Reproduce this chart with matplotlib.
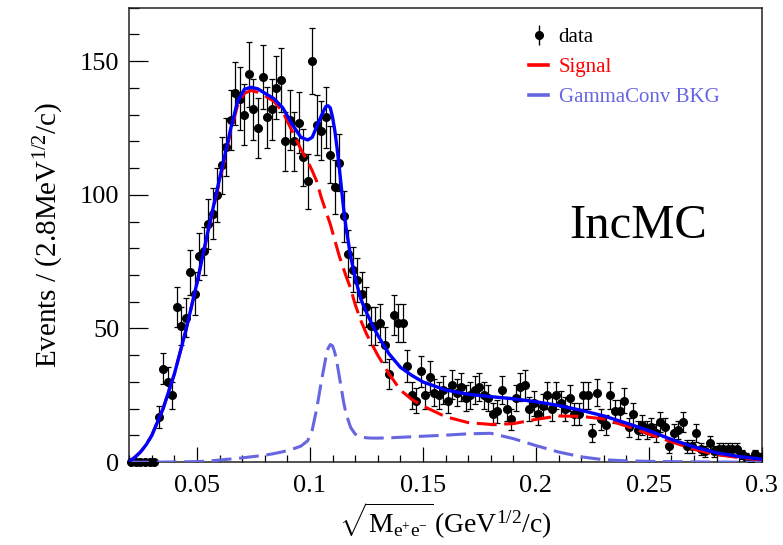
import matplotlib
matplotlib.use("Agg")
import matplotlib.pyplot as plt
import numpy as np
from matplotlib.ticker import MultipleLocator
from matplotlib.lines import Line2D

# Histogram: 140 bins of width 0.002 between 0.02 and 0.3
bin_lo, bin_hi, n_bins = 0.02, 0.30, 140

counts = [
    0, 0, 0, 0, 0, 0, 17, 35, 30, 25,
    58, 51, 54, 71, 63, 77, 79, 89, 93, 100,
    111, 118, 128, 138, 136, 130, 145, 132, 125, 144,
    129, 132, 140, 143, 120, 128, 120, 127, 114, 105,
    150, 126, 124, 129, 115, 103, 112, 92, 78, 72,
    68, 63, 58, 51, 51, 52, 44, 33, 55, 52,
    52, 36, 25, 23, 34, 25, 32, 26, 25, 27,
    23, 29, 26, 28, 24, 25, 27, 28, 25, 24,
    18, 19, 27, 20, 16, 24, 28, 29, 20, 22,
    18, 21, 25, 20, 25, 22, 20, 24, 18, 18,
    25, 25, 11, 26, 16, 14, 25, 19, 19, 23,
    13, 18, 12, 14, 12, 13, 11, 15, 13, 6,
    11, 12, 15, 6, 6, 11, 5, 4, 7, 4,
    5, 5, 5, 5, 5, 3, 2, 1, 3, 2,
]

# Fit curves
curve_x = [
    0.020, 0.0225, 0.025, 0.0275, 0.030, 0.035, 0.040, 0.045, 0.050, 0.055,
    0.060, 0.065, 0.068, 0.071, 0.074, 0.077, 0.080, 0.084, 0.088, 0.092,
    0.096, 0.099, 0.101, 0.103, 0.105, 0.107, 0.108, 0.109, 0.110, 0.111,
    0.112, 0.113, 0.114, 0.115, 0.116, 0.118, 0.120, 0.1225, 0.125, 0.1275,
    0.130, 0.135, 0.140, 0.145, 0.150, 0.160, 0.170, 0.180, 0.190, 0.200,
    0.210, 0.220, 0.230, 0.240, 0.250, 0.260, 0.270, 0.280, 0.290, 0.300,
]
total_fit = [
    0.3, 1.8, 3.8, 6.5, 10, 20, 33, 49, 67, 87,
    106, 125, 135, 139.5, 140.2, 139.6, 138, 136, 132.5, 126.5,
    121.5, 120.5, 121.5, 125.5, 129.5, 133, 133.3, 132.5, 129, 124,
    117.5, 110, 102, 94, 87.5, 77, 69, 61, 56, 51.5,
    47.5, 40.5, 35.5, 32.5, 30, 27, 25.4, 24.5, 23.7, 22.6,
    21.2, 19.4, 17.3, 14.6, 11.8, 8.5, 5.7, 3.5, 2.1, 1.1,
]
signal = [
    0.3, 1.8, 3.8, 6.5, 10, 20, 33, 49, 67, 86.5,
    105, 124, 133.5, 138, 139, 138.3, 137, 135, 131, 124,
    117, 112.5, 109, 105, 99, 94, 91.5, 89, 86, 83,
    80, 77, 74.5, 72, 69.5, 65, 59, 53, 48, 44,
    40, 33, 27, 23.5, 21, 17, 14.8, 14.1, 14.4, 16,
    17.3, 17.1, 16.2, 13.5, 10.5, 7.6, 4.8, 2.8, 1.7, 0.9,
]
gamma_bkg = [
    0, 0, 0, 0, 0, 0.05, 0.1, 0.15, 0.2, 0.4,
    0.8, 1.2, 1.4, 1.7, 2.0, 2.3, 2.6, 3.2, 3.9, 4.8,
    6.0, 8, 12, 20, 30, 39, 42.5, 44, 43.5, 41,
    37, 32, 27, 22, 18, 13, 10.5, 9.5, 9.1, 9,
    9, 9.1, 9.3, 9.5, 9.7, 10.1, 10.6, 10.8, 8.8, 6.2,
    3.8, 2.0, 0.9, 0.5, 0.3, 0.2, 0.1, 0.05, 0, 0,
]

plt.rcParams["font.family"] = ["Liberation Serif", "DejaVu Serif"]
plt.rcParams["mathtext.fontset"] = "custom"
plt.rcParams["mathtext.rm"] = "Liberation Serif"
plt.rcParams["mathtext.it"] = "Liberation Serif:italic"
plt.rcParams["mathtext.bf"] = "Liberation Serif:bold"

fig = plt.figure(figsize=(7.83, 5.45), dpi=100)
ax = fig.add_axes([0.165, 0.152, 0.808, 0.834])

edges = np.linspace(bin_lo, bin_hi, n_bins + 1)
centers = 0.5 * (edges[:-1] + edges[1:])
counts = np.array(counts, dtype=float)
filled = counts > 0

# data points
ax.errorbar(centers[filled], counts[filled], yerr=np.sqrt(counts[filled]),
            fmt="o", color="black", ms=5.5, elinewidth=0.9, capsize=1.9,
            capthick=0.9, zorder=3)
ax.plot(centers[~filled], counts[~filled], "o", color="black", ms=5.5,
        clip_on=False, zorder=3)

# fit components
bkg_col = "#6666e0"
ax.plot(curve_x, gamma_bkg, color=bkg_col, lw=2.2, dashes=(6.5, 2.5), zorder=4)
ax.plot(curve_x, signal, color="#ff0000", lw=2.2, dashes=(6.5, 2.5), zorder=4)
ax.plot(curve_x, total_fit, color="#0000ff", lw=2.4, zorder=5)

ax.set_xlim(bin_lo, bin_hi)
ax.set_ylim(0, 170)
ax.xaxis.set_minor_locator(MultipleLocator(0.01))
ax.yaxis.set_major_locator(MultipleLocator(50))
ax.yaxis.set_minor_locator(MultipleLocator(10))
ax.set_xticks([0.05, 0.1, 0.15, 0.2, 0.25, 0.3])
ax.set_xticklabels(["0.05", "0.1", "0.15", "0.2", "0.25", "0.3"])
ax.tick_params(which="both", direction="in", top=False, right=False,
               labelsize=19, width=0.9)
ax.tick_params(axis="x", which="major", length=11, pad=9)
ax.tick_params(axis="x", which="minor", length=5)
ax.tick_params(axis="y", which="major", length=14, pad=7)
ax.tick_params(axis="y", which="minor", length=7)
for sp in ax.spines.values():
    sp.set_linewidth(1.1)
    sp.set_color("#222222")

ax.set_ylabel(r"Events / (2.8MeV$^{1/2}$/c)", fontsize=21, labelpad=10)
ax.set_xlabel(r"$\sqrt{\mathrm{M}_{\mathrm{e}^{+}\mathrm{e}^{-}}}\,$(GeV$^{1/2}$/c)",
              fontsize=20, labelpad=3)

ax.text(0.804, 0.52, "IncMC", transform=ax.transAxes, fontsize=35,
        ha="center", va="center")

# legend handle for data: marker with a vertical error bar
data_handle = ax.errorbar([], [], yerr=[], fmt="o", color="black", ms=5.5,
                          elinewidth=1.0, capsize=0)
handles = [
    data_handle,
    Line2D([0], [0], color="#ff0000", lw=2.6),
    Line2D([0], [0], color=bkg_col, lw=2.6),
]
leg = ax.legend(handles, ["data", "Signal", "GammaConv BKG"], loc="upper left",
                bbox_to_anchor=(0.603, 0.997), frameon=False, fontsize=15,
                handlelength=0.9, handletextpad=0.5, labelspacing=0.5,
                labelcolor=["black", "#ff0000", bkg_col])

fig.savefig("out.png", dpi=100)
